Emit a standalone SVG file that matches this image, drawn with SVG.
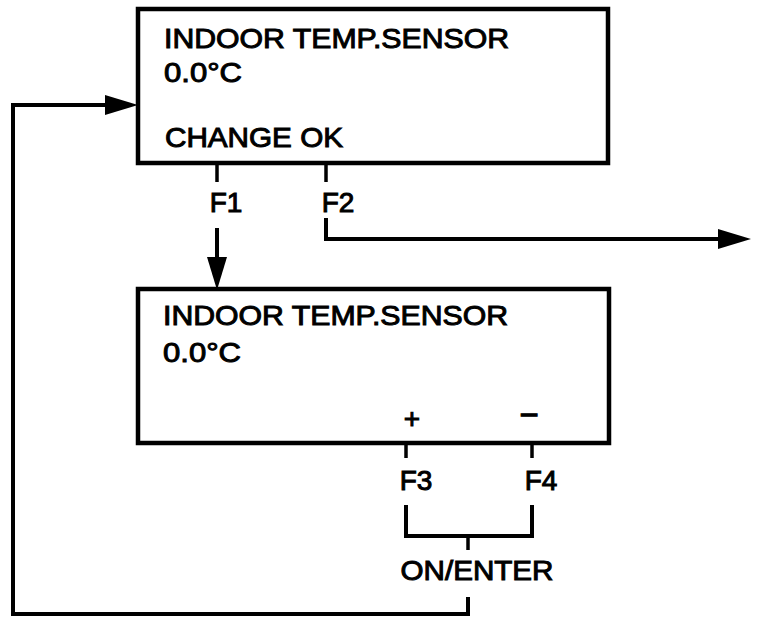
<svg xmlns="http://www.w3.org/2000/svg" width="768" height="642" viewBox="0 0 768 642">
  <style>
    .box { fill: #fff; stroke: #000; stroke-width: 4.5; }
    .ln { fill: none; stroke: #000; stroke-width: 4; }
    .tk { fill: none; stroke: #000; stroke-width: 3.5; }
    .t { font-family: "Liberation Sans", Arial, Helvetica, sans-serif; font-size: 28px; fill: #000; stroke: #000; stroke-width: 1; }
    .m { text-anchor: middle; }
  </style>
  <defs>
    <marker id="ah" markerUnits="userSpaceOnUse" markerWidth="34" markerHeight="22" refX="0" refY="11" orient="auto" viewBox="0 0 34 22">
      <path d="M0,1 L33,11 L0,21 Z" fill="#000"/>
    </marker>
  </defs>
  <rect width="768" height="642" fill="#fff"/>

  <g id="connectors">
    <path class="ln" d="M468,597 V614 H13 V105 H105" marker-end="url(#ah)"/>
    <line class="tk" x1="217" y1="165" x2="217" y2="182"/>
    <line class="ln" x1="217" y1="228" x2="217" y2="257" marker-end="url(#ah)"/>
    <line class="tk" x1="326" y1="165" x2="326" y2="182"/>
    <path class="ln" d="M326,218 V239 H718" marker-end="url(#ah)"/>
    <line class="tk" x1="406" y1="443" x2="406" y2="458"/>
    <line class="tk" x1="532" y1="443" x2="532" y2="458"/>
    <path class="ln" d="M406,505 V536 H532 V505"/>
    <line class="tk" x1="468" y1="536" x2="468" y2="550"/>
  </g>

  <g id="screen-change-ok">
    <rect class="box" x="138" y="9" width="470" height="154"/>
    <text class="t" x="164" y="48" textLength="345" lengthAdjust="spacingAndGlyphs">INDOOR TEMP.SENSOR</text>
    <text class="t" x="164" y="82" textLength="78" lengthAdjust="spacingAndGlyphs">0.0°C</text>
    <text class="t" x="165" y="147" textLength="178" lengthAdjust="spacingAndGlyphs">CHANGE OK</text>
  </g>

  <g id="label-f1"><text class="t m" x="226" y="212">F1</text></g>
  <g id="label-f2"><text class="t m" x="338" y="212">F2</text></g>

  <g id="screen-adjust">
    <rect class="box" x="138" y="289" width="471" height="154"/>
    <text class="t" x="163" y="325" textLength="345" lengthAdjust="spacingAndGlyphs">INDOOR TEMP.SENSOR</text>
    <text class="t" x="163" y="362" textLength="78" lengthAdjust="spacingAndGlyphs">0.0°C</text>
    <text class="t m" x="412" y="428">+</text>
    <text class="t m" x="529" y="426" style="font-size:33px">−</text>
  </g>

  <g id="label-f3"><text class="t m" x="416" y="490">F3</text></g>
  <g id="label-f4"><text class="t m" x="541" y="490">F4</text></g>
  <g id="label-on-enter"><text class="t m" x="477" y="580" textLength="153" lengthAdjust="spacingAndGlyphs">ON/ENTER</text></g>
</svg>
